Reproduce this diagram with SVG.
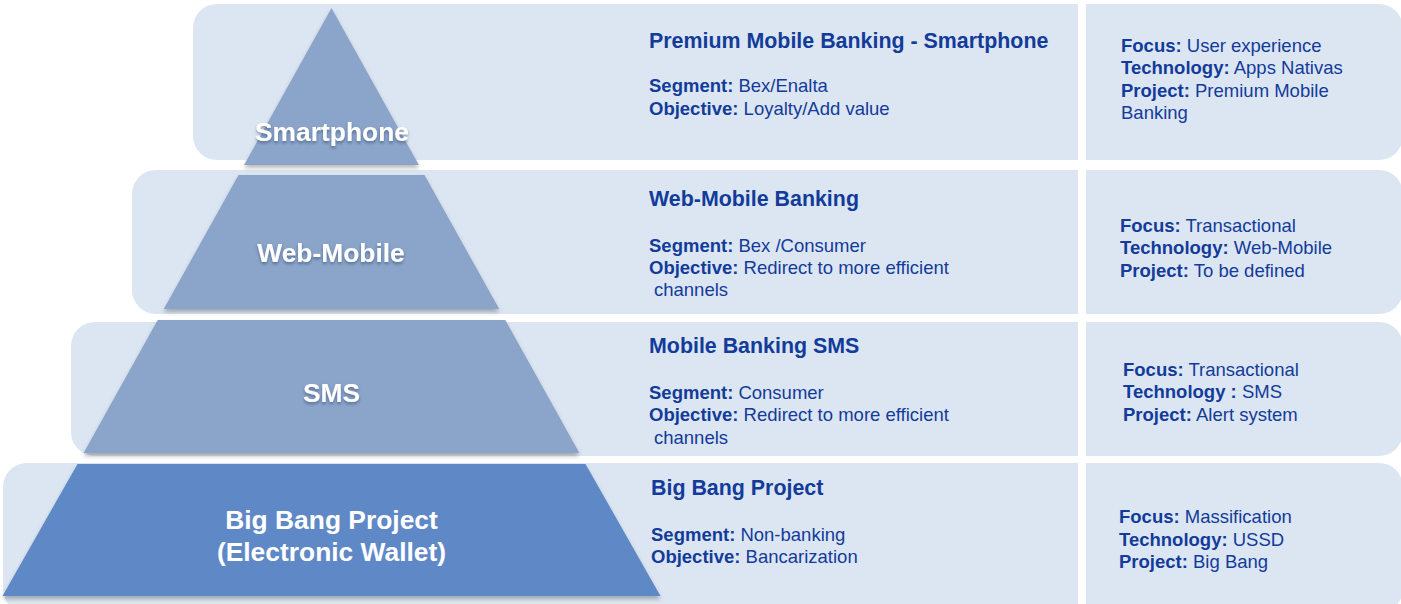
<svg xmlns="http://www.w3.org/2000/svg" width="1401" height="604" viewBox="0 0 1401 604">
<defs>
<filter id="sh" x="-10%" y="-10%" width="120%" height="130%">
<feDropShadow dx="0" dy="3" stdDeviation="2" flood-color="#000" flood-opacity="0.28"/>
</filter>
<filter id="tsh" x="-10%" y="-20%" width="120%" height="160%">
<feDropShadow dx="0" dy="2" stdDeviation="1.5" flood-color="#1a2a50" flood-opacity="0.45"/>
</filter>
</defs>
<style>
.band{fill:#DCE6F2}
.seg{fill:#8BA4CA}
.segb{fill:#5F88C6}
.lbl{font-family:"Liberation Sans",Arial,sans-serif;font-weight:bold;font-size:26.4px;fill:#fff;text-anchor:middle}
.ttl{font-family:"Liberation Sans",Arial,sans-serif;font-weight:bold;font-size:21.4px;fill:#123B9A}
.txt{font-family:"Liberation Sans",Arial,sans-serif;font-size:18.5px;fill:#123B9A}
.b{font-weight:bold}
</style>
<rect width="1401" height="604" fill="#fff"/>
<g id="bands">
<rect class="band" x="193" y="4" width="1210" height="156" rx="24"/>
<rect class="band" x="132" y="170" width="1271" height="144" rx="24"/>
<rect class="band" x="71" y="322" width="1332" height="134" rx="24"/>
<rect class="band" x="3" y="463" width="1400" height="150" rx="24"/>
<rect x="1078" y="0" width="8" height="604" fill="#fff"/>
</g>
<g id="pyramid">
<g id="seg-smartphone">
<polygon class="seg" filter="url(#sh)" points="331.5,8 418.9,165 244.1,165"/>
<text class="lbl" filter="url(#tsh)" x="332" y="141">Smartphone</text>
</g>
<g id="seg-webmobile">
<polygon class="seg" filter="url(#sh)" points="238.5,175 424.5,175 499.2,309 163.8,309"/>
<text class="lbl" filter="url(#tsh)" x="331" y="262">Web-Mobile</text>
</g>
<g id="seg-sms">
<polygon class="seg" filter="url(#sh)" points="157.7,320 505.3,320 579.4,453 83.6,453"/>
<text class="lbl" filter="url(#tsh)" x="331.5" y="402">SMS</text>
</g>
<g id="seg-bigbang">
<polygon class="segb" filter="url(#sh)" points="77.5,464 585.5,464 660.5,596 2.5,596"/>
<text class="lbl" x="331.5" y="529">Big Bang Project</text>
<text class="lbl" x="331.5" y="561">(Electronic Wallet)</text>
</g>
</g>
<g id="desc-smartphone">
<text class="ttl" x="649" y="48">Premium Mobile Banking - Smartphone</text>
<text class="txt" x="649" y="92"><tspan class="b">Segment:</tspan> Bex/Enalta</text>
<text class="txt" x="649" y="115"><tspan class="b">Objective:</tspan> Loyalty/Add value</text>
</g>
<g id="info-smartphone">
<text class="txt" x="1121" y="52"><tspan class="b">Focus:</tspan> User experience</text>
<text class="txt" x="1121" y="74"><tspan class="b">Technology:</tspan> Apps Nativas</text>
<text class="txt" x="1121" y="97"><tspan class="b">Project:</tspan> Premium Mobile</text>
<text class="txt" x="1121" y="119">Banking</text>
</g>
<g id="desc-webmobile">
<text class="ttl" x="649" y="206">Web-Mobile Banking</text>
<text class="txt" x="649" y="252"><tspan class="b">Segment:</tspan> Bex /Consumer</text>
<text class="txt" x="649" y="274"><tspan class="b">Objective:</tspan> Redirect to more efficient</text>
<text class="txt" x="654" y="296">channels</text>
</g>
<g id="info-webmobile">
<text class="txt" x="1120" y="232"><tspan class="b">Focus:</tspan> Transactional</text>
<text class="txt" x="1120" y="254"><tspan class="b">Technology:</tspan> Web-Mobile</text>
<text class="txt" x="1120" y="277"><tspan class="b">Project:</tspan> To be defined</text>
</g>
<g id="desc-sms">
<text class="ttl" x="649" y="353">Mobile Banking SMS</text>
<text class="txt" x="649" y="399"><tspan class="b">Segment:</tspan> Consumer</text>
<text class="txt" x="649" y="421"><tspan class="b">Objective:</tspan> Redirect to more efficient</text>
<text class="txt" x="654" y="444">channels</text>
</g>
<g id="info-sms">
<text class="txt" x="1123" y="376"><tspan class="b">Focus:</tspan> Transactional</text>
<text class="txt" x="1123" y="398"><tspan class="b">Technology :</tspan> SMS</text>
<text class="txt" x="1123" y="421"><tspan class="b">Project:</tspan> Alert system</text>
</g>
<g id="desc-bigbang">
<text class="ttl" x="651" y="495">Big Bang Project</text>
<text class="txt" x="651" y="541"><tspan class="b">Segment:</tspan> Non-banking</text>
<text class="txt" x="651" y="563"><tspan class="b">Objective:</tspan> Bancarization</text>
</g>
<g id="info-bigbang">
<text class="txt" x="1119" y="523"><tspan class="b">Focus:</tspan> Massification</text>
<text class="txt" x="1119" y="546"><tspan class="b">Technology:</tspan> USSD</text>
<text class="txt" x="1119" y="568"><tspan class="b">Project:</tspan> Big Bang</text>
</g>
<g id="connectors"/>
</svg>
